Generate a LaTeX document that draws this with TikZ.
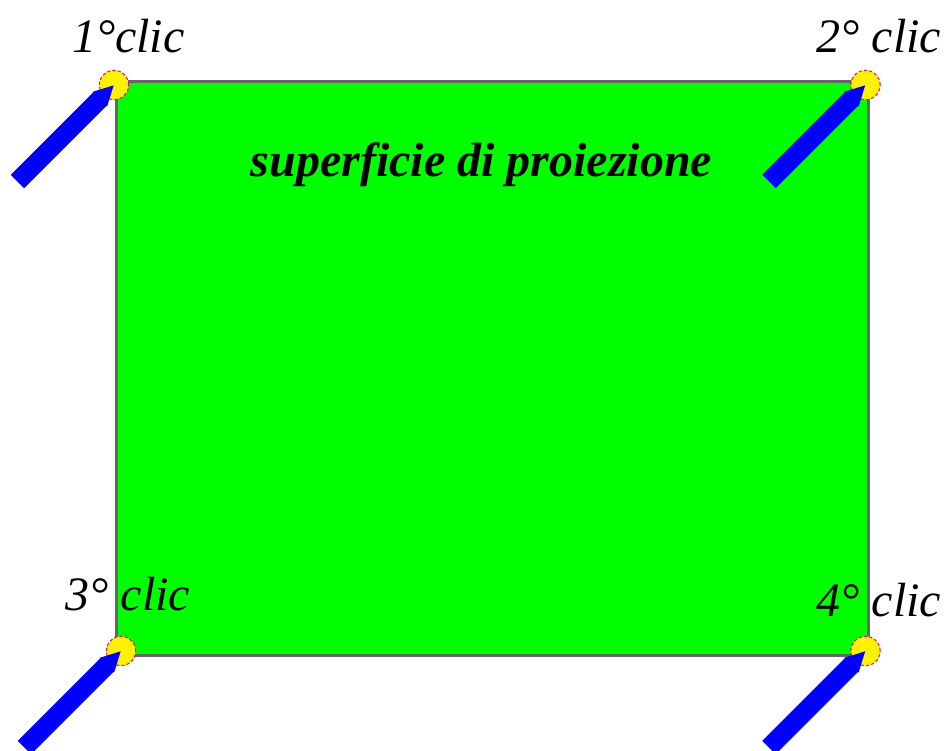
\documentclass[tikz,border=0pt]{standalone}
\usepackage{fontspec}
\setmainfont{Liberation Serif}
\usetikzlibrary{arrows.meta}
\definecolor{surfgreen}{RGB}{0,255,0}
\definecolor{edgegray}{RGB}{102,102,102}
\begin{document}
\begin{tikzpicture}[x=0.75pt,y=-0.75pt,every node/.style={inner sep=0pt,outer sep=0pt}, surface/.style={draw=edgegray,line width=2.25pt,fill=surfgreen,minimum width=564pt,minimum height=430.5pt},dot/.style={circle,draw=magenta,dash pattern=on 2.5pt off 1.5pt,line width=0.75pt,fill=yellow,minimum size=22pt},pointer/.style={draw=blue,line width=14.25pt,-{Triangle[length=15pt,width=14.25pt]}},clic/.style={font=\fontsize{36}{40}\selectfont\itshape,anchor=base west},title/.style={font=\fontsize{36}{40}\selectfont\bfseries\itshape,anchor=base}]
\useasboundingbox (0,0) rectangle (944,750);
\node[surface] (surf) at (492,368) {};
\node[dot] (dot1) at (114,85) {};
\node[dot] (dot2) at (865.5,85) {};
\node[dot] (dot3) at (121,651) {};
\node[dot] (dot4) at (865.5,651) {};
\coordinate (tail1) at (17.5,181.5);
\coordinate (tail2) at (769,181.5);
\coordinate (tail3) at (24.5,747.5);
\coordinate (tail4) at (769,747.5);
\draw[pointer] (tail1) -- (dot1.center);
\draw[pointer] (tail2) -- (dot2.center);
\draw[pointer] (tail3) -- (dot3.center);
\draw[pointer] (tail4) -- (dot4.center);
\node[clic] (lab1) at (72,52) {1°clic};
\node[clic] (lab2) at (816.5,52) {2° clic};
\node[clic] (lab3) at (65.5,610) {3° clic};
\node[clic] (lab4) at (816.5,616) {4° clic};
\node[title] (name) at (481.5,176) {superficie di proiezione};
\end{tikzpicture}
\end{document}
